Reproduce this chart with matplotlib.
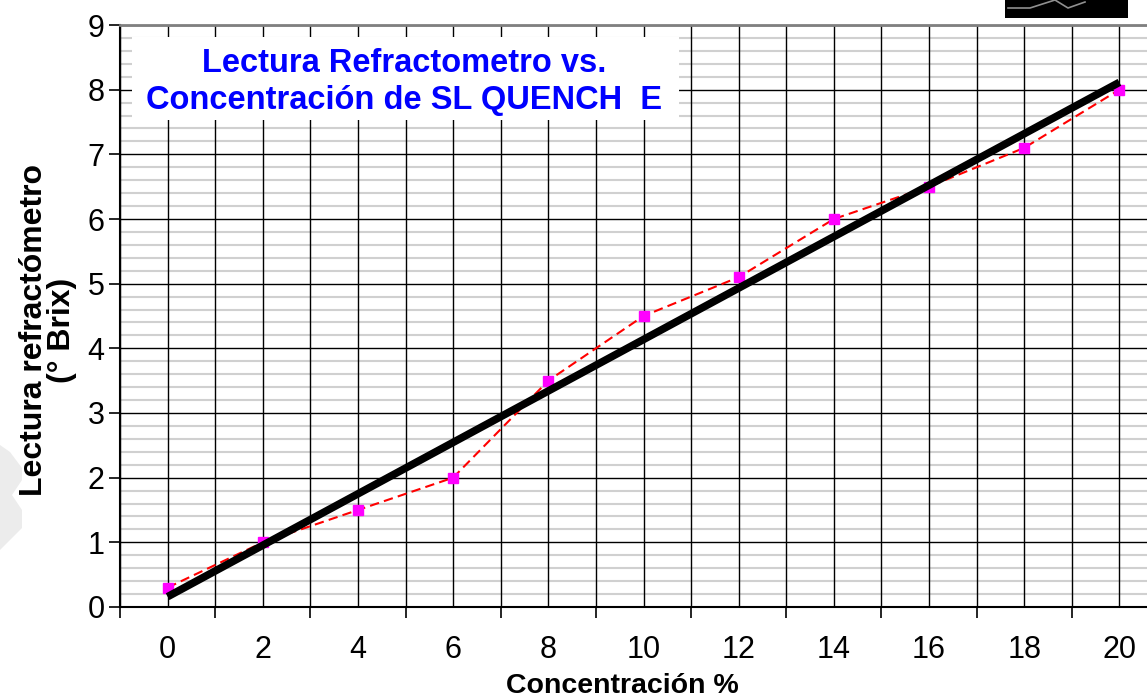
import numpy as np
import matplotlib
matplotlib.use("Agg")
import matplotlib.pyplot as plt
from matplotlib.patches import Rectangle, Polygon

plt.rcParams['font.family'] = ['Liberation Sans', 'DejaVu Sans']

# data
concentration = [0, 2, 4, 6, 8, 10, 12, 14, 16, 18, 20]
brix_reading = [0.3, 1.0, 1.5, 2.0, 3.5, 4.5, 5.1, 6.0, 6.5, 7.1, 8.0]
title_lines = ["Lectura Refractometro vs.", "Concentración de SL QUENCH  E"]
x_label = "Concentración %"
y_label = "Lectura refractómetro\n(° Brix)"

W, H = 1147, 700
fig = plt.figure(figsize=(W / 100, H / 100), dpi=100)

# axes run past the right edge of the picture, as in the original
left, right, top, bottom = 120, 1167, 25, 607
ax = fig.add_axes([left / W, (H - bottom) / H, (right - left) / W, (bottom - top) / H])
ax.set_xlim(-1, 21)
ax.set_ylim(0, 9)

# ticks and grid
ax.set_xticks(np.arange(0, 21, 2))
ax.set_xticks(np.arange(-1, 22, 2), minor=True)
ax.set_yticks(np.arange(0, 10, 1))
ax.tick_params(axis='x', which='major', length=0, pad=20, labelsize=22)
ax.tick_params(axis='x', which='minor', length=8, width=1.2, direction='out')
ax.tick_params(axis='y', which='major', length=8, width=1.2, direction='out', pad=3, labelsize=22)
ax.grid(axis='x', which='both', color='black', lw=1.0)
ax.grid(axis='y', which='major', color='black', lw=1.0)
ax.set_axisbelow(True)
# light minor lines every 0.2, kept under the black grid
minor_y = [v for v in np.arange(0.2, 9, 0.2) if abs(v - round(v)) > 1e-6]
ax.hlines(minor_y, -1, 21, colors='#d0d0d0', lw=1.5, zorder=0.3)

for s in ['left', 'bottom']:
    ax.spines[s].set_color('black')
    ax.spines[s].set_linewidth(1.5)
ax.spines['top'].set_color('#808080')
ax.spines['top'].set_linewidth(2)
ax.spines['right'].set_visible(False)

# series and its linear trend line
ax.plot(concentration, brix_reading, color='red', ls=(0, (4.5, 2.5)), lw=1.5,
        marker='s', ms=6.5, mfc='#ff00ff', mec='#ff00ff', zorder=3)
slope, intercept = np.polyfit(concentration, brix_reading, 1)
xs = np.array([concentration[0], concentration[-1]])
ax.plot(xs, slope * xs + intercept, color='black', lw=5.5, solid_capstyle='butt', zorder=4)

# title in a white box over the grid
ax.add_patch(Rectangle((-0.75, 7.53), 11.5, 1.28, fc='white', ec='none', zorder=2))
ax.text(4.97, 8.4, title_lines[0], ha='center', va='center', fontsize=23.5,
        fontweight='bold', color='#0000ff', zorder=3)
ax.text(4.97, 7.83, title_lines[1], ha='center', va='center', fontsize=23.5,
        fontweight='bold', color='#0000ff', zorder=3)

fig.text(622 / W, 1 - 693 / H, x_label, ha='center', va='baseline', fontsize=20.5, fontweight='bold')
fig.text(48 / W, 1 - 330 / H, y_label, ha='center', va='center', rotation=90,
         fontsize=23, fontweight='bold', linespacing=0.95)

# cropped logo at the top right and faint watermark on the left
fig.patches.append(Rectangle((1005 / W, 1 - 18 / H), 123 / W, 18 / H, fc='black', ec='none',
                             transform=fig.transFigure))
fig.lines.append(plt.Line2D(np.array([1008, 1030, 1055, 1068, 1085]) / W,
                            1 - np.array([8, 8, 0, 8, 2]) / H, color='#909090', lw=1.2,
                            transform=fig.transFigure))
fig.patches.append(Polygon(np.column_stack([np.array([0, 10, 22, 22, 12, 22, 22, 0]) / W,
                                            1 - np.array([445, 452, 468, 480, 495, 510, 528, 550]) / H]),
                           fc='#ececec', ec='none', transform=fig.transFigure, zorder=0))

fig.savefig("out.png", dpi=100)
